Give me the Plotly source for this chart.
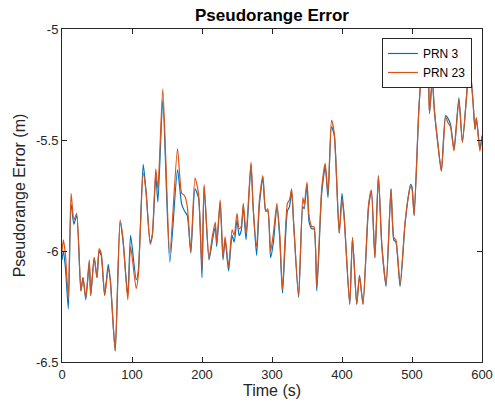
import plotly.graph_objects as go

time_s = [0, 2, 5, 9, 13, 17, 21, 27, 30, 34, 39, 41, 46, 50, 53, 56, 61, 66, 69, 76,
          83, 87, 94, 98, 106, 109, 116, 120, 126, 129, 134, 137, 144, 154, 165, 171,
          175, 179, 184, 190, 195, 200, 203, 210, 215, 219, 221, 226, 230, 233, 238,
          243, 246, 250, 253, 256, 259, 263, 270, 273, 278, 282, 287, 291, 294, 298,
          302, 307, 311, 315, 322, 325, 328, 331, 338, 344, 346, 350, 353, 357, 360,
          364, 371, 376, 380, 385, 389, 396, 400, 403, 411, 415, 421, 425, 430, 438,
          442, 447, 452, 457, 463, 470, 474, 477, 483, 490, 495, 498, 500, 503, 510,
          515, 518, 520, 523, 525, 529, 532, 537, 542, 548, 551, 555, 560, 567, 572,
          578, 582, 587, 590, 592, 597, 600]

prn23 = [-6.00, -5.95, -6.02, -6.21, -5.74, -5.86, -5.83, -6.18, -6.12, -6.21, -6.04, -6.20,
         -6.03, -6.12, -5.99, -6.01, -6.20, -6.08, -6.13, -6.45, -5.86, -5.94, -6.22, -5.98,
         -6.17, -6.11, -5.65, -5.73, -5.97, -5.93, -5.63, -5.72, -5.27, -6.01, -5.54, -5.74,
         -5.75, -5.80, -6.00, -5.67, -5.74, -6.08, -5.70, -6.03, -5.93, -5.87, -5.965, -5.77,
         -6.03, -5.935, -6.07, -5.905, -5.93, -5.83, -5.90, -5.89, -5.785, -5.92, -5.60,
         -5.80, -5.98, -5.77, -5.66, -5.82, -5.81, -6.00, -5.92, -5.785, -5.92, -6.175,
         -5.785, -5.77, -5.72, -5.88, -6.20, -5.76, -5.79, -5.69, -5.845, -5.89, -5.89,
         -6.16, -5.72, -5.605, -5.74, -5.41, -5.47, -5.92, -5.77, -5.845, -6.24, -5.94,
         -6.24, -6.11, -6.24, -5.79, -5.725, -6.03, -5.66, -5.98, -6.15, -5.72, -5.94,
         -5.95, -6.15, -5.875, -5.75, -5.71, -5.72, -5.84, -5.35, -5.15, -5.21, -5.24,
         -5.19, -5.38, -5.22, -5.365, -5.515, -5.64, -5.395, -5.42, -5.44, -5.55, -5.32,
         -5.51, -5.30, -5.15, -5.32, -5.455, -5.40, -5.55, -5.49]

prn3 = [-6.04, -6.00, -6.08, -6.26, -5.79, -5.88, -5.84, -6.18, -6.12, -6.22, -6.05, -6.20,
        -6.03, -6.12, -6.00, -6.02, -6.20, -6.06, -6.13, -6.45, -5.87, -5.95, -6.20, -5.93,
        -6.13, -6.09, -5.61, -5.73, -5.96, -5.93, -5.66, -5.78, -5.32, -6.05, -5.635, -5.79,
        -5.82, -5.84, -6.01, -5.72, -5.76, -6.12, -5.71, -6.04, -5.95, -5.89, -5.98, -5.78,
        -6.04, -5.95, -6.09, -5.93, -5.96, -5.86, -5.93, -5.91, -5.80, -5.95, -5.61,
        -5.80, -6.02, -5.79, -5.67, -5.82, -5.82, -6.03, -5.96, -5.80, -5.94, -6.19,
        -5.82, -5.80, -5.73, -5.88, -6.21, -5.80, -5.81, -5.70, -5.87, -5.90, -5.90,
        -6.18, -5.74, -5.62, -5.76, -5.44, -5.48, -5.92, -5.74, -5.84, -6.24, -5.94,
        -6.24, -6.11, -6.24, -5.80, -5.73, -6.03, -5.66, -5.98, -6.16, -5.72, -5.95,
        -5.96, -6.16, -5.88, -5.75, -5.70, -5.71, -5.84, -5.35, -5.15, -5.21, -5.24,
        -5.19, -5.38, -5.23, -5.37, -5.52, -5.64, -5.39, -5.40, -5.43, -5.54, -5.31,
        -5.51, -5.30, -5.15, -5.32, -5.45, -5.40, -5.54, -5.48]

x_ticks = [0, 100, 200, 300, 400, 500, 600]
y_ticks = [-6.5, -6, -5.5, -5]
y_tick_labels = ["-6.5", "-6", "-5.5", "-5"]

axis_color = "#262626"
font_family = "Liberation Sans, Arial, sans-serif"

fig = go.Figure()
fig.add_trace(go.Scatter(x=time_s, y=prn3, mode="lines", name="PRN 3",
                         line=dict(color="#0072BD", width=1.2, shape="spline", smoothing=0.6)))
fig.add_trace(go.Scatter(x=time_s, y=prn23, mode="lines", name="PRN 23",
                         line=dict(color="#D95319", width=1.2, shape="spline", smoothing=0.6)))

fig.update_layout(
    width=495, height=403,
    margin=dict(l=62, r=13, t=29, b=41, autoexpand=False),
    paper_bgcolor="white", plot_bgcolor="white",
    font=dict(family=font_family, size=13, color=axis_color),
    title=dict(text="<b>Pseudorange Error</b>", x=272 / 495, xanchor="center",
               y=1 - 15 / 403, yanchor="middle", font=dict(size=17, color="black")),
    showlegend=True,
    legend=dict(x=0.976, xanchor="right", y=0.973, yanchor="top",
                bgcolor="white", bordercolor="#262626", borderwidth=1,
                font=dict(size=12, color="black"), tracegroupgap=0,
                itemwidth=30),
    xaxis=dict(range=[0, 600], tickvals=x_ticks, ticks="inside", ticklen=5,
               tickcolor=axis_color, showline=True, linecolor=axis_color, linewidth=1,
               mirror="ticks", showgrid=False, zeroline=False, automargin=False,
               title=dict(text="Time (s)", font=dict(size=16), standoff=4)),
    yaxis=dict(range=[-6.5, -5], tickvals=y_ticks, ticktext=y_tick_labels,
               ticks="inside", ticklen=5, tickcolor=axis_color, showline=True,
               linecolor=axis_color, linewidth=1, mirror="ticks", showgrid=False,
               zeroline=False, automargin=False,
               title=dict(text="Pseudorange Error (m)", font=dict(size=16), standoff=6)),
)

fig.write_html("out.html", config={"displayModeBar": False},
               post_script="document.body.style.margin='0';document.body.style.overflow='hidden';")
